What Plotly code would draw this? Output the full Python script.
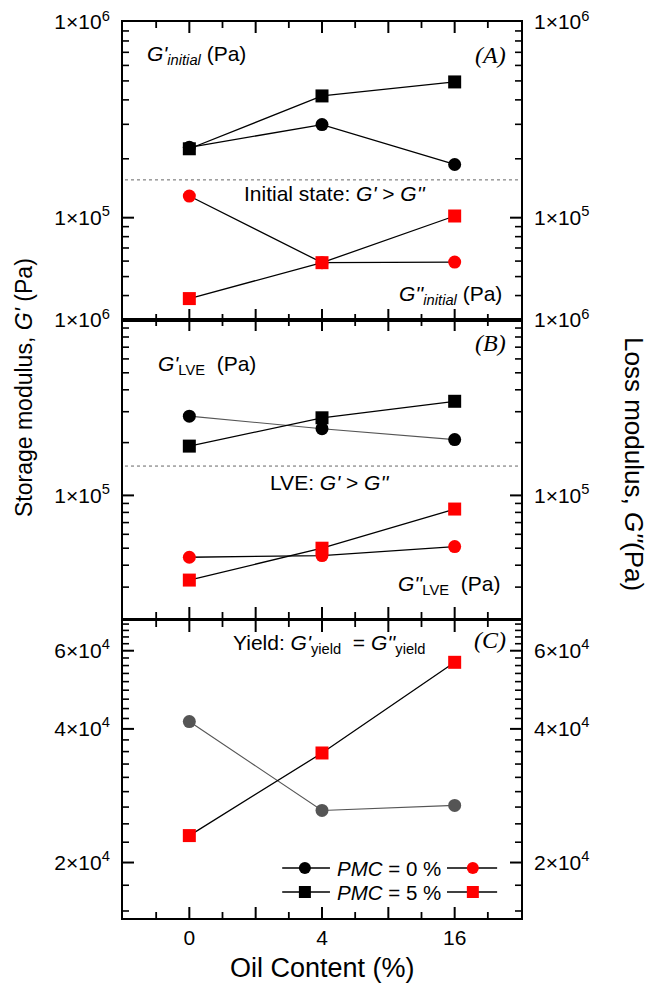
import numpy as np
import plotly.graph_objects as go

# ---------------- data ----------------
oil_labels = ["0", "4", "16"]
oil_pos = [0, 1, 2]

# Panel A: initial state
A_Gp_pmc0 = [2.29e5, 2.99e5, 1.87e5]
A_Gp_pmc5 = [2.25e5, 4.19e5, 4.94e5]
A_Gpp_pmc0 = [1.29e5, 5.89e4, 5.93e4]
A_Gpp_pmc5 = [3.86e4, 5.89e4, 1.02e5]
A_threshold = 1.56e5

# Panel B: LVE
B_Gp_pmc0 = [2.83e5, 2.40e5, 2.08e5]
B_Gp_pmc5 = [1.91e5, 2.77e5, 3.44e5]
B_Gpp_pmc0 = [4.44e4, 4.54e4, 5.11e4]
B_Gpp_pmc5 = [3.29e4, 5.00e4, 8.36e4]
B_threshold = 1.47e5

# Panel C: yield
C_yield_pmc0 = [4.155e4, 2.62e4, 2.69e4]
C_yield_pmc5 = [2.30e4, 3.53e4, 5.65e4]

AB_tickvals = [1e5, 1e6]
AB_ticktext = ["1×10<sup>5</sup>", "1×10<sup>6</sup>"]
C_tickvals = [2e4, 4e4, 6e4]
C_ticktext = ["2×10<sup>4</sup>", "4×10<sup>4</sup>", "6×10<sup>4</sup>"]

# ---------------- layout helpers ----------------
W, H = 648, 983
FONT = "Arial, 'Liberation Sans', sans-serif"
SERIF = "'Times New Roman', 'Liberation Serif', serif"

def px(x):
    return x / W

def py(y):
    return 1 - y / H

XL, XR = 123, 521
XDOM = [px(XL), px(XR)]
A_DOM = [py(320), py(22)]
B_DOM = [py(618), py(320)]
C_DOM = [py(918), py(621)]

X_RANGE = [-0.5, 2.5]
A_RANGE = [np.log10(3e4), 6]
B_RANGE = [np.log10(2e4), 6]
C_RANGE = [np.log10(1.5e4), np.log10(7e4)]

X_MAJOR = [0, 0.5, 1, 1.5, 2]
X_MINOR = [-0.25, 0.25, 0.75, 1.25, 1.75, 2.25]
A_MINOR = [m * 10 ** e for e in (4, 5) for m in range(2, 10) if m * 10 ** e > 3e4]
B_MINOR = [m * 10 ** e for e in (4, 5) for m in range(2, 10) if m * 10 ** e > 2e4]
C_MINOR = [2e4 + k * 2e4 / 9 for k in range(-2, 23) if k % 9 != 0 and 2e4 + k * 2e4 / 9 < 7e4]

RED = "#ff0000"
GREY = "#555555"
MS = 13
MAJ, MIN = 11, 6

fig = go.Figure()

def add_series(y, xa, ya, symbol, mcolor, lcolor, lw=1.3):
    fig.add_trace(go.Scatter(
        x=oil_pos, y=y, xaxis=xa, yaxis=ya, mode="lines+markers",
        line=dict(color=lcolor, width=lw),
        marker=dict(symbol=symbol, size=MS, color=mcolor, line=dict(width=0)),
        showlegend=False, hoverinfo="skip"))

# Panel A (G' on left storage axis, G'' on right loss axis)
add_series(A_Gp_pmc0, "x", "y", "circle", "black", "black")
add_series(A_Gp_pmc5, "x", "y", "square", "black", "black")
add_series(A_Gpp_pmc0, "x", "y4", "circle", RED, "black")
add_series(A_Gpp_pmc5, "x", "y4", "square", RED, "black")
# Panel B
add_series(B_Gp_pmc0, "x2", "y2", "circle", "black", GREY, 1.1)
add_series(B_Gp_pmc5, "x2", "y2", "square", "black", "black")
add_series(B_Gpp_pmc0, "x2", "y5", "circle", RED, "black")
add_series(B_Gpp_pmc5, "x2", "y5", "square", RED, "black")
# Panel C
add_series(C_yield_pmc0, "x3", "y3", "circle", GREY, GREY, 1.1)
add_series(C_yield_pmc5, "x3", "y6", "square", RED, "black")

# Legend (drawn on a hidden 0..1 overlay of panel C)
leg_rows = [0.168, 0.0875]
leg_symbols = ["circle", "square"]
for r, sym in zip(leg_rows, leg_symbols):
    for (x0, xm, x1, col) in [(0.40, 0.457, 0.52, "black"), (0.814, 0.879, 0.94, RED)]:
        fig.add_trace(go.Scatter(x=[x0, x1], y=[r, r], xaxis="x4", yaxis="y7", mode="lines",
                                 line=dict(color="black", width=1.5), showlegend=False, hoverinfo="skip"))
        fig.add_trace(go.Scatter(x=[xm], y=[r], xaxis="x4", yaxis="y7", mode="markers",
                                 marker=dict(symbol=sym, size=MS - 1, color=col), showlegend=False,
                                 hoverinfo="skip"))

# threshold dotted lines
for xr, yr, val in [("x domain", "y", A_threshold), ("x2 domain", "y2", B_threshold)]:
    fig.add_shape(type="line", xref=xr, yref=yr, x0=0.005, x1=0.998, y0=val, y1=val,
                  line=dict(color="#666666", width=1, dash="dot"))

# inward ticks on all four sides of each panel (drawn as shapes)
def xfrac(v):
    return (v - X_RANGE[0]) / (X_RANGE[1] - X_RANGE[0])

def tick_shapes(xa, ya, ydom, ymajor, yminor):
    xd = f"{xa} domain"
    for vals, L, w in [(X_MAJOR, MAJ, 2), (X_MINOR, MIN, 1.8)]:
        hw = (w / 2) / (XR - XL)
        for v in vals:
            for base, sgn in [(ydom[0], 1), (ydom[1], -1)]:
                fig.add_shape(type="rect", xref=xd, yref="paper",
                              x0=xfrac(v) - hw, x1=xfrac(v) + hw,
                              y0=base, y1=base + sgn * L / H,
                              fillcolor="black", line=dict(width=0))
    for vals, L, w in [(ymajor, MAJ, 2), (yminor, MIN, 1.6)]:
        for v in vals:
            for anchor, sgn in [(0, 1), (1, -1)]:
                fig.add_shape(type="line", xref=xd, yref=ya, xsizemode="pixel", xanchor=anchor,
                              x0=0, x1=sgn * L, y0=v, y1=v, line=dict(color="black", width=w))

tick_shapes("x", "y", A_DOM, [1e5], A_MINOR)
tick_shapes("x2", "y2", B_DOM, [1e5], B_MINOR)
tick_shapes("x3", "y3", C_DOM, C_tickvals, C_MINOR)

TICKFONT = dict(family=FONT, size=21, color="black")

def xax(dom_anchor, labels):
    d = dict(
        domain=XDOM, anchor=dom_anchor, automargin=False,
        range=X_RANGE, showline=True, linecolor="black", linewidth=2, mirror=True,
        ticks="", tickmode="array", tickvals=oil_pos, ticktext=oil_labels,
        showgrid=False, zeroline=False, tickfont=TICKFONT, showticklabels=labels)
    return d

def yleft(dom, rng, tv, tt, anchor):
    return dict(
        type="log", domain=dom, range=rng, anchor=anchor, automargin=False, showline=True,
        linecolor="black", linewidth=2, mirror=True, ticks="", tickmode="array",
        tickvals=tv, ticktext=tt, showgrid=False, zeroline=False, tickfont=TICKFONT,
        ticklabelstandoff=7)

def yright(rng, tv, tt, over, anchor):
    return dict(
        type="log", range=rng, overlaying=over, side="right", anchor=anchor, automargin=False,
        showline=False, ticks="", tickmode="array", tickvals=tv, ticktext=tt, showgrid=False,
        zeroline=False, tickfont=TICKFONT, ticklabelstandoff=12)

fig.update_layout(
    width=W, height=H, margin=dict(l=0, r=0, t=0, b=0, autoexpand=False),
    paper_bgcolor="white", plot_bgcolor="white",
    font=dict(family=FONT, size=21, color="black"),
    xaxis=xax("y", False),
    xaxis2=xax("y2", False),
    xaxis3=xax("y3", True),
    xaxis4=dict(overlaying="x3", anchor="y7", range=[0, 1], visible=False),
    yaxis=yleft(A_DOM, A_RANGE, AB_tickvals, AB_ticktext, "x"),
    yaxis2=yleft(B_DOM, B_RANGE, AB_tickvals, AB_ticktext, "x2"),
    yaxis3=yleft(C_DOM, C_RANGE, C_tickvals, C_ticktext, "x3"),
    yaxis4=yright(A_RANGE, AB_tickvals, AB_ticktext, "y", "x"),
    yaxis5=yright(B_RANGE, AB_tickvals, AB_ticktext, "y2", "x2"),
    yaxis6=yright(C_RANGE, C_tickvals, C_ticktext, "y3", "x3"),
    yaxis7=dict(overlaying="y3", anchor="x4", range=[0, 1], visible=False),
)

def ann(text, x, y, xanchor="center", size=21, family=FONT, angle=0):
    fig.add_annotation(text=text, x=px(x), y=py(y), xref="paper", yref="paper",
                       xanchor=xanchor, yanchor="middle", showarrow=False, textangle=angle,
                       font=dict(family=family, size=size, color="black"))

# Panel A texts
ann("<i>G'</i><sub><i>initial</i></sub> (Pa)", 145, 55, "left")
ann("<i>(A)</i>", 508, 55, "right", 24, SERIF)
ann("Initial state: <i>G'</i> > <i>G''</i>", 335, 193)
ann("<i>G''</i><sub><i>initial</i></sub> (Pa)", 504, 295, "right")
# Panel B texts
ann("<i>G'</i><sub>LVE</sub>  (Pa)", 156, 365, "left")
ann("<i>(B)</i>", 508, 343, "right", 24, SERIF)
ann("LVE: <i>G'</i> > <i>G''</i>", 329, 482)
ann("<i>G''</i><sub>LVE</sub>  (Pa)", 502, 585, "right")
# Panel C texts
ann("Yield: <i>G'</i><sub>yield</sub>  = <i>G''</i><sub>yield</sub>", 329, 644)
ann("<i>(C)</i>", 508, 640, "right", 24, SERIF)
ann("<i>PMC</i> = 0 %", 389, 868, size=20.5)
ann("<i>PMC</i> = 5 %", 389, 892, size=20.5)
# axis titles
ann("Oil Content (%)", 322, 968, size=27)
ann("Storage modulus, <i>G'</i> (Pa)", 24, 388, size=23, angle=-90)
ann("Loss modulus, <i>G''</i>(Pa)", 634, 464, size=26, angle=90)

fig.write_html("out.html")
